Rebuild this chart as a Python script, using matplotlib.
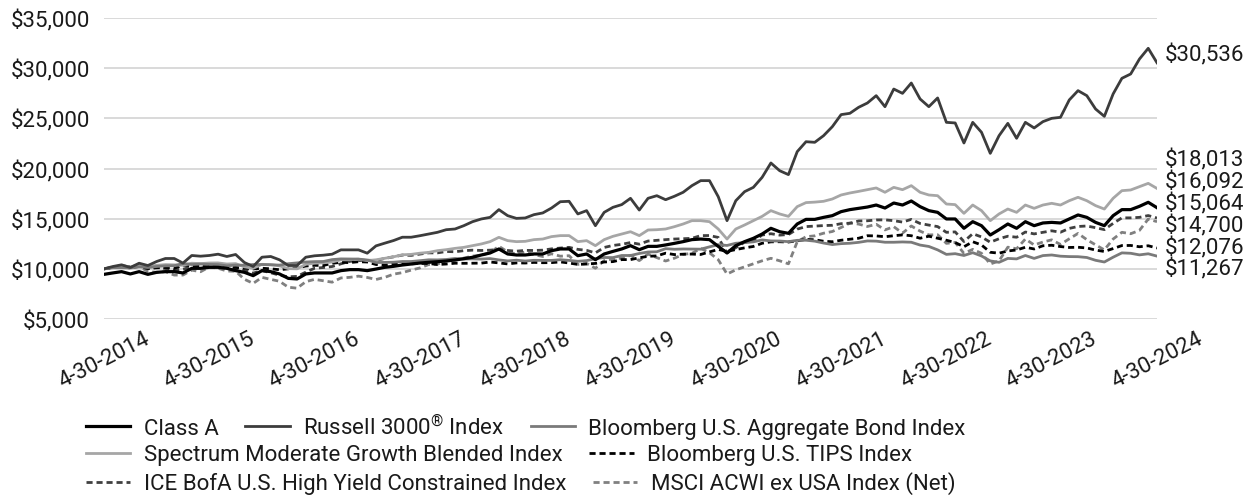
import numpy as np
import matplotlib
matplotlib.use("Agg")
import matplotlib.pyplot as plt
from matplotlib.ticker import FuncFormatter

plt.rcParams['font.family'] = ['Roboto', 'DejaVu Sans']
plt.rcParams['mathtext.fontset'] = 'custom'
plt.rcParams['mathtext.rm'] = 'Roboto'

# month-end values, 4-30-2014 .. 4-30-2024 (one row = 12 months starting in April)
class_a = [9450, 9590, 9720, 9490, 9720, 9450, 9650, 9720, 9720, 9590, 10050, 10050,
           10150, 10150, 10050, 9820, 9650, 9320, 9820, 9720, 9490, 9050, 8990, 9490,
           9590, 9590, 9590, 9820, 9920, 9920, 9820, 9980, 10150, 10250, 10380, 10480,
           10580, 10650, 10710, 10780, 10880, 11010, 11150, 11380, 11580, 11980, 11480, 11380,
           11380, 11480, 11480, 11810, 11980, 11980, 11310, 11480, 10910, 11480, 11740, 11980,
           12310, 11910, 12240, 12240, 12380, 12540, 12710, 12910, 12970, 12910, 12240, 11580,
           12310, 12710, 13040, 13470, 14040, 13700, 13540, 14470, 14930, 14930, 15130, 15300,
           15700, 15900, 16030, 16160, 16360, 16060, 16560, 16360, 16760, 16200, 15800, 15630,
           14970, 14970, 14040, 14700, 14300, 13370, 13900, 14470, 14040, 14700, 14300, 14570,
           14630, 14570, 14970, 15370, 15130, 14630, 14300, 15300, 15900, 15900, 16230, 16630,
           16092]
russell = [10000, 10230, 10400, 10130, 10560, 10330, 10730, 11030, 11030, 10570, 11330, 11260,
           11330, 11460, 11230, 11430, 10630, 10230, 11160, 11230, 10900, 10330, 10330, 11160,
           11300, 11360, 11460, 11890, 11890, 11890, 11560, 12290, 12560, 12820, 13150, 13150,
           13300, 13470, 13640, 13900, 13970, 14300, 14700, 14970, 15130, 15900, 15300, 15030,
           15070, 15400, 15570, 16060, 16690, 16730, 15470, 15800, 14300, 15630, 16130, 16400,
           17030, 15860, 17030, 17290, 16890, 17230, 17630, 18290, 18790, 18790, 17190, 14800,
           16790, 17690, 18120, 19120, 20550, 19780, 19390, 21680, 22670, 22610, 23270, 24170,
           25370, 25500, 26100, 26530, 27260, 26160, 27920, 27490, 28520, 26930, 26160, 27030,
           24600, 24540, 22540, 24600, 23610, 21510, 23270, 24500, 23010, 24600, 24040, 24670,
           25000, 25100, 26830, 27760, 27260, 25930, 25200, 27430, 28990, 29420, 30910, 31980,
           30536]
agg_bond = [10000, 10110, 10120, 10090, 10200, 10130, 10230, 10300, 10310, 10530, 10430, 10480,
            10440, 10420, 10300, 10370, 10360, 10430, 10430, 10400, 10370, 10510, 10590, 10680,
            10720, 10730, 10920, 10990, 10980, 10970, 10880, 10630, 10640, 10660, 10730, 10730,
            10810, 10900, 10890, 10930, 11030, 10980, 10990, 10970, 11020, 10890, 10790, 10860,
            10780, 10850, 10840, 10840, 10910, 10840, 10750, 10820, 11010, 11130, 11120, 11330,
            11330, 11530, 11680, 11700, 12010, 11950, 11980, 11970, 11960, 12190, 12410, 12330,
            12550, 12610, 12690, 12880, 12780, 12770, 12710, 12840, 12850, 12760, 12570, 12420,
            12510, 12550, 12640, 12780, 12760, 12650, 12650, 12680, 12650, 12370, 12230, 11890,
            11440, 11510, 11330, 11610, 11280, 10790, 10650, 11040, 10990, 11330, 11040, 11320,
            11380, 11260, 11220, 11210, 11130, 10850, 10680, 11160, 11590, 11550, 11390, 11500,
            11267]
spectrum = [10000, 10150, 10300, 10200, 10380, 10250, 10350, 10420, 10400, 10350, 10560, 10520,
            10580, 10590, 10480, 10520, 10200, 10050, 10450, 10420, 10300, 10020, 10000, 10450,
            10560, 10600, 10680, 10900, 10920, 10960, 10820, 10900, 11050, 11200, 11400, 11440,
            11560, 11640, 11810, 11910, 12040, 12140, 12310, 12480, 12710, 13140, 12810, 12710,
            12740, 12910, 12970, 13210, 13310, 13310, 12710, 12810, 12310, 12910, 13240, 13470,
            13700, 13310, 13870, 13900, 13970, 14200, 14470, 14800, 14800, 14700, 13970, 12970,
            13970, 14370, 14800, 15230, 15800, 15470, 15230, 16200, 16600, 16650, 16730, 16960,
            17360, 17560, 17720, 17890, 18060, 17630, 18120, 17890, 18290, 17630, 17360, 17290,
            16460, 16400, 15530, 16360, 15800, 14800, 15470, 15960, 15630, 16360, 16030, 16360,
            16530, 16360, 16790, 17130, 16790, 16300, 15960, 17030, 17790, 17860, 18190, 18520,
            18013]
tips = [10000, 10120, 10180, 10200, 10240, 10040, 10100, 10130, 10050, 10360, 10310, 10290,
        10370, 10290, 10180, 10140, 10060, 9990, 10060, 10000, 9910, 10000, 10090, 10280,
        10350, 10330, 10560, 10640, 10620, 10710, 10680, 10430, 10370, 10460, 10510, 10500,
        10540, 10530, 10430, 10480, 10560, 10550, 10560, 10570, 10680, 10590, 10490, 10590,
        10580, 10640, 10610, 10620, 10690, 10580, 10440, 10480, 10540, 10680, 10720, 10920,
        10920, 11100, 11250, 11290, 11560, 11420, 11460, 11470, 11430, 11690, 11930, 11740,
        11920, 12090, 12230, 12550, 12690, 12700, 12670, 12800, 12930, 12900, 12750, 12700,
        12850, 12950, 13050, 13300, 13280, 13200, 13300, 13380, 13300, 13050, 13250, 13050,
        12850, 12620, 12200, 12700, 12380, 11650, 11560, 11780, 11880, 12150, 11980, 12300,
        12350, 12220, 12130, 12150, 12080, 11870, 11730, 12020, 12320, 12330, 12200, 12300,
        12076]
high_yield = [10000, 10110, 10210, 10080, 10240, 10030, 10150, 10030, 9890, 9960, 10200, 10150,
              10270, 10290, 10140, 10000, 9830, 9570, 9830, 9610, 9370, 9200, 9250, 9670,
              10060, 10130, 10230, 10500, 10740, 10820, 10860, 10820, 11040, 11200, 11370, 11340,
              11470, 11590, 11590, 11730, 11700, 11810, 11860, 11830, 11860, 11930, 11830, 11760,
              11840, 11830, 11860, 11990, 12070, 12140, 11940, 11840, 11590, 12130, 12330, 12440,
              12620, 12460, 12770, 12840, 12910, 12970, 13000, 13040, 13310, 13320, 13130, 11590,
              12110, 12660, 12780, 13370, 13500, 13360, 13420, 13960, 14210, 14260, 14310, 14340,
              14500, 14550, 14770, 14790, 14870, 14880, 14800, 14660, 14930, 14520, 14360, 14210,
              13640, 13680, 12720, 13500, 13180, 12650, 13000, 13250, 13150, 13670, 13480, 13640,
              13790, 13650, 14030, 14220, 14270, 14100, 13910, 14530, 15080, 15080, 15130, 15310,
              15064]
msci = [10000, 10160, 10330, 10180, 10230, 9740, 9650, 9720, 9380, 9380, 9870, 9710,
        10190, 10060, 9780, 9760, 8960, 8550, 9150, 8950, 8760, 8170, 8070, 8720,
        8950, 8810, 8670, 9090, 9150, 9270, 9140, 8940, 9150, 9470, 9620, 9870,
        10090, 10430, 10460, 10810, 10870, 11070, 11270, 11360, 11610, 12250, 11690, 11480,
        11680, 11420, 11230, 11500, 11260, 11310, 10440, 10540, 10060, 10820, 11000, 11060,
        11350, 10820, 11470, 11120, 10780, 11060, 11440, 11540, 12040, 11600, 10910, 9480,
        9900, 10200, 10500, 10800, 11050, 10800, 10500, 12700, 13200, 13290, 13550, 13720,
        14120, 14560, 14460, 14220, 14440, 13880, 14200, 13560, 14270, 13760, 13380, 13400,
        12540, 12630, 11540, 11940, 11550, 10480, 10790, 12160, 12000, 12970, 12380, 12670,
        12890, 12430, 12990, 13530, 12910, 12390, 11890, 12970, 13640, 13500, 13830, 14960,
        14700]

tick_labels = ['4-30-2014', '4-30-2015', '4-30-2016', '4-30-2017', '4-30-2018', '4-30-2019',
               '4-30-2020', '4-30-2021', '4-30-2022', '4-30-2023', '4-30-2024']
names = ['Class A', 'Russell 3000$^{\\circledR}$ Index', 'Bloomberg U.S. Aggregate Bond Index',
         'Spectrum Moderate Growth Blended Index', 'Bloomberg U.S. TIPS Index',
         'ICE BofA U.S. High Yield Constrained Index', 'MSCI ACWI ex USA Index (Net)']

months = np.arange(len(russell))

fig = plt.figure(figsize=(12.49, 5.02), dpi=100)
ax = fig.add_axes([104 / 1249, 1 - 320 / 502, 1053 / 1249, 301 / 502])

dash = (0, (2.2, 1.4))
styles = [
    dict(color='#000000', lw=2.3, ls='-'),
    dict(color='#3c3c3c', lw=2.0, ls='-'),
    dict(color='#7a7a7a', lw=2.0, ls='-'),
    dict(color='#a6a6a6', lw=2.0, ls='-'),
    dict(color='#000000', lw=2.0, ls=dash),
    dict(color='#404040', lw=2.0, ls=dash),
    dict(color='#808080', lw=2.0, ls=dash),
]
series = [class_a, russell, agg_bond, spectrum, tips, high_yield, msci]
handles = []
for z, (vals, st) in enumerate(zip(series, styles)):
    ln, = ax.plot(months, vals, zorder=10 - z, **st)
    handles.append(ln)

ax.set_xlim(0, 120)
ax.set_ylim(5000, 35000)
ax.set_yticks(np.arange(5000, 35001, 5000))
ax.yaxis.set_major_formatter(FuncFormatter(lambda v, p: f"${v:,.0f}"))
ax.set_xticks(np.arange(0, 121, 12))
ax.set_xticklabels(tick_labels, rotation=27, ha='center')
ax.tick_params(axis='both', length=0, labelsize=16, colors='#1a1a1a')
ax.tick_params(axis='y', pad=10)
ax.tick_params(axis='x', pad=6)
ax.grid(axis='y', color='#d9d9d9', lw=1.4)
ax.set_axisbelow(True)
for s in ax.spines.values():
    s.set_visible(False)

# end-value labels on the right, stacked
end_labels = [russell[-1], spectrum[-1], class_a[-1], high_yield[-1], msci[-1], tips[-1], agg_bond[-1]]
label_px = [55, 160, 182, 204, 226, 248, 269]
for val, ypx in zip(end_labels, label_px):
    ax.text((1165 - 104) / 1053, (320 - ypx) / 301, f"${val:,.0f}", transform=ax.transAxes,
            ha='left', va='center', fontsize=16, color='#1a1a1a', clip_on=False)

# legend in three rows
rows = [[0, 1, 2], [3, 4], [5, 6]]
row_px = [428, 456, 484]
for row, ypx in zip(rows, row_px):
    leg = fig.legend([handles[i] for i in row], [names[i] for i in row], loc='center left',
                     bbox_to_anchor=(86 / 1249, 1 - ypx / 502), ncol=len(row), frameon=False,
                     fontsize=16, handlelength=2.0, handletextpad=0.6, columnspacing=1.2,
                     borderpad=0, borderaxespad=0)
    for t in leg.get_texts():
        t.set_color('#1a1a1a')

fig.savefig('out.png', dpi=100)
